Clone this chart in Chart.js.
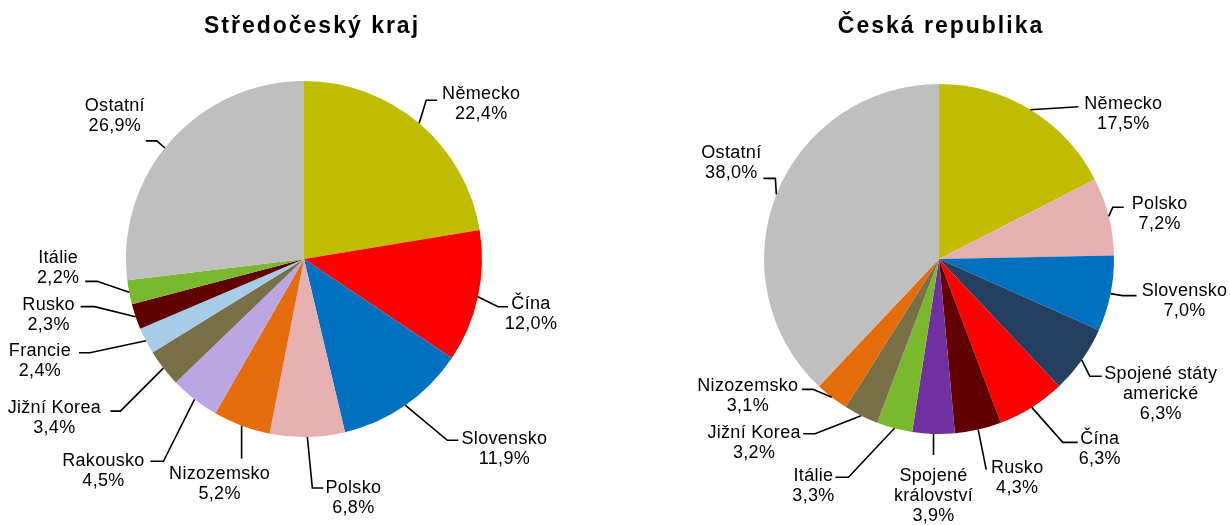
<!DOCTYPE html>
<html>
<head>
<meta charset="utf-8">
<script src="https://cdn.jsdelivr.net/npm/chart.js@4"></script>
<style>
  html, body { margin: 0; padding: 0; background: #ffffff; }
  #wrap { position: relative; width: 1230px; height: 525px; }
  canvas { position: absolute; top: 0; }
  #c1 { left: 0; }
  #c2 { left: 615px; }
</style>
</head>
<body>
<div id="wrap">
  <canvas id="c1" width="615" height="525"></canvas>
  <canvas id="c2" width="615" height="525"></canvas>
</div>
<script>
// ---- Data ----
const leftTitle = 'Středočeský kraj';
const leftCategories = ['Německo', 'Čína', 'Slovensko', 'Polsko', 'Nizozemsko', 'Rakousko', 'Jižní Korea', 'Francie', 'Rusko', 'Itálie', 'Ostatní'];
const leftValues = [22.4, 12.0, 11.9, 6.8, 5.2, 4.5, 3.4, 2.4, 2.3, 2.2, 26.9];

const rightTitle = 'Česká republika';
const rightCategories = ['Německo', 'Polsko', 'Slovensko', 'Spojené státy\namerické', 'Čína', 'Rusko', 'Spojené\nkrálovství', 'Itálie', 'Jižní Korea', 'Nizozemsko', 'Ostatní'];
const rightValues = [17.5, 7.2, 7.0, 6.3, 6.3, 4.3, 3.9, 3.3, 3.2, 3.1, 38.0];

// ---- Styles ----
const leftColors = ['#C0BC00', '#FF0000', '#0070C0', '#E6B0B0', '#E46C0A', '#B9A6E3', '#7A7048', '#A6CCE8', '#620000', '#7AB82E', '#BFBFBF'];
const rightColors = ['#C0BC00', '#E6B0B0', '#0070C0', '#243F60', '#FF0000', '#620000', '#7030A0', '#7AB82E', '#7A7048', '#E46C0A', '#BFBFBF'];

// label layout relative to slice outer mid-point:
// [textDx, textDy(first line), attachDx, attachDy, elbowDx, startAngleShiftDeg]
const leftLabelLayout = [
  [62, -30, 18, -23, -11, 0],
  [53, 6, 30, 10, -10, 0],
  [99, 33, 53, 35, -11, 0],
  [46, 50, 16, 51, -11, 0],
  [-22, 47, 0, 33, 0, 0],
  [-91, 61, -44, 62, 13, 0],
  [-109, 39, -53, 43, 10, 0],
  [-106, 9, -67, 12, 11, 0],
  [-87, -13, -55, -10, 14, 0],
  [-71, -35, -44, -11, 12, 0],
  [-56, -36, -25, 0, 11, -3]
];
const rightLabelLayout = [
  [93, -7, 48, -3, 0, 0],
  [51, -13, 15, -9, -11, 0],
  [74, -4, 26, 2, -14, 0],
  [79, 13, 20, 16, -12, 0],
  [68, 31, 46, 35, -15, 0],
  [39, 37, 8, 40, 0, 0],
  [0, 41, 0, 21, 0, 0],
  [-81, 47, -59, 49, 13, 0],
  [-107, 16, -58, 18, 12, 0],
  [-84, -12, -30, -8, 11, 0],
  [-45, -42, -13, -16, 12, 0]
];

const LABEL_FONT = '18px "Liberation Sans", Arial, sans-serif';
const TITLE_FONT = 'bold 23px "Liberation Sans", Arial, sans-serif';

function fmtPct(v) { return v.toFixed(1).replace('.', ',') + '%'; }

const outsideLabels = {
  id: 'outsideLabels',
  afterDatasetsDraw(chart, args, opts) {
    const ctx = chart.ctx;
    const meta = chart.getDatasetMeta(0);
    const values = chart.data.datasets[0].data;
    const cats = chart.data.labels;
    ctx.save();
    ctx.strokeStyle = '#000000';
    ctx.lineWidth = 1.6;
    ctx.fillStyle = '#000000';
    ctx.font = LABEL_FONT;
    ctx.textAlign = 'center';
    ctx.textBaseline = 'alphabetic';
    try { ctx.letterSpacing = '0.3px'; } catch (e) {}
    meta.data.forEach((arc, i) => {
      const p = arc.getProps(['x', 'y', 'startAngle', 'endAngle', 'outerRadius'], true);
      const mid = (p.startAngle + p.endAngle) / 2;
      const px = p.x + Math.cos(mid) * p.outerRadius;
      const py = p.y + Math.sin(mid) * p.outerRadius;
      const L = opts.layout[i];
      const sa = mid + L[5] * Math.PI / 180;
      const sx = p.x + Math.cos(sa) * p.outerRadius;
      const sy = p.y + Math.sin(sa) * p.outerRadius;
      // leader line
      ctx.beginPath();
      ctx.moveTo(sx, sy);
      ctx.lineTo(px + L[2] + L[4], py + L[3]);
      ctx.lineTo(px + L[2], py + L[3]);
      ctx.stroke();
      // text
      const lines = cats[i].split('\n').concat([fmtPct(values[i])]);
      lines.forEach((t, k) => {
        ctx.fillText(t, px + L[0], py + L[1] + k * 20 + 6);
      });
    });
    // title
    ctx.font = TITLE_FONT;
    try { ctx.letterSpacing = '2px'; } catch (e) {}
    ctx.fillText(opts.title, opts.titleX, 33);
    ctx.restore();
  }
};

function makePie(id, title, titleX, cats, vals, colors, layout, pad) {
  return new Chart(document.getElementById(id), {
    type: 'pie',
    data: {
      labels: cats,
      datasets: [{ data: vals, backgroundColor: colors, borderWidth: 0 }]
    },
    options: {
      responsive: false,
      animation: false,
      devicePixelRatio: 1,
      layout: { padding: pad },
      plugins: {
        legend: { display: false },
        tooltip: { enabled: false },
        title: { display: false },
        outsideLabels: { layout: layout, title: title, titleX: titleX }
      }
    },
    plugins: [outsideLabels]
  });
}

makePie('c1', leftTitle, 312, leftCategories, leftValues, leftColors, leftLabelLayout,
  { left: 126, right: 133, top: 81, bottom: 88 });
makePie('c2', rightTitle, 326, rightCategories, rightValues, rightColors, rightLabelLayout,
  { left: 149, right: 116, top: 84, bottom: 91 });
</script>
</body>
</html>
